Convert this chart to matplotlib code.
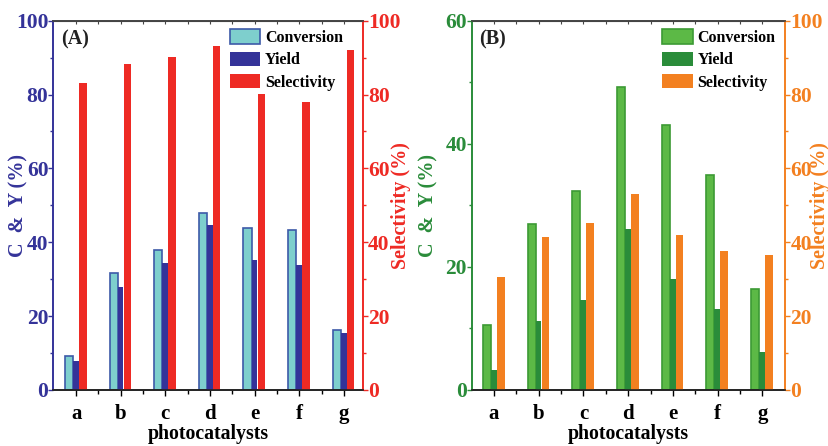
import matplotlib.pyplot as plt
from matplotlib.ticker import MultipleLocator
import numpy as np

plt.rcParams['font.family'] = ['Liberation Serif', 'DejaVu Serif']
plt.rcParams['font.weight'] = 'bold'

cats = ['a', 'b', 'c', 'd', 'e', 'f', 'g']

# panel A
conv_a = [9.3, 31.8, 38.0, 48.0, 43.9, 43.4, 16.3]
yield_a = [7.9, 27.9, 34.3, 44.7, 35.1, 33.9, 15.3]
sel_a = [83.0, 88.2, 90.1, 93.1, 80.1, 78.1, 92.1]

# panel B
conv_b = [10.6, 27.0, 32.3, 49.2, 43.0, 35.0, 16.4]
yield_b = [3.3, 11.2, 14.6, 26.1, 18.1, 13.2, 6.1]
sel_b = [30.7, 41.4, 45.2, 53.0, 42.0, 37.5, 36.6]


def panel(rect, conv, yld, sel, c_face, c_edge, y_col, s_col, l_col, r_col,
          lmax, label, xlim, lpos, rpos, leg_x):
    ax = fig.add_axes(rect)
    x = np.arange(len(cats))
    h1 = ax.bar(x - 0.16, conv, 0.18, color=c_face, edgecolor=c_edge, linewidth=1.2,
                label='Conversion', zorder=2)
    h2 = ax.bar(x - 0.005, yld, 0.13, color=y_col, label='Yield', zorder=3)
    ax2 = ax.twinx()
    h3 = ax2.bar(x + 0.15, sel, 0.17, color=s_col, label='Selectivity', zorder=2)

    ax.set_xlim(*xlim)
    ax.set_ylim(0, lmax)
    ax2.set_ylim(0, 100)
    ax.set_xticks(x)
    ax.set_xticklabels(cats, fontsize=15, fontweight='bold')
    ax.set_xticks(x[:-1] + 0.5, minor=True)
    ax.yaxis.set_major_locator(MultipleLocator(20))
    ax.yaxis.set_minor_locator(MultipleLocator(10))
    ax2.yaxis.set_major_locator(MultipleLocator(20))
    ax2.yaxis.set_minor_locator(MultipleLocator(10))

    ax.tick_params(axis='y', which='major', direction='out', length=3.5, width=1,
                   colors=l_col, labelsize=15.5, pad=0)
    ax.tick_params(axis='y', which='minor', direction='out', length=2.5, width=1,
                   colors=l_col)
    ax.tick_params(axis='x', which='major', direction='out', length=4, width=1,
                   labelsize=15, pad=6)
    ax.tick_params(axis='x', which='minor', direction='out', length=3, width=1)
    ax2.tick_params(axis='y', which='major', direction='out', length=3.5, width=1,
                    colors=r_col, labelsize=15.5, pad=0.5)
    ax2.tick_params(axis='y', which='minor', direction='out', length=2.5, width=1,
                    colors=r_col)
    # small inward ticks on the top spine
    secx = ax.secondary_xaxis('top')
    secx.set_xticks(x)
    secx.set_xticks(x[:-1] + 0.5, minor=True)
    secx.tick_params(which='both', direction='in', length=2.5, width=0.8,
                     labeltop=False, colors='#444444')
    secx.spines['top'].set_color('#444444')
    for lab in ax.get_yticklabels() + ax2.get_yticklabels():
        lab.set_fontweight('bold')

    for a in (ax, ax2):
        a.spines['left'].set_color(l_col)
        a.spines['right'].set_color(r_col)
        a.spines['top'].set_color('#444444')
        a.spines['bottom'].set_color('#222222')
        for s in a.spines.values():
            s.set_linewidth(1.2)

    ax.set_xlabel('photocatalysts', fontsize=14.3, fontweight='bold', labelpad=0)
    ax.set_ylabel('C  &  Y (%)', fontsize=14.5, fontweight='bold', color=l_col)
    ax.yaxis.set_label_coords(lpos, 0.5)
    ax2.set_ylabel('Selectivity (%)', fontsize=14.5, fontweight='bold', color=r_col)
    ax2.yaxis.set_label_coords(rpos, 0.5)
    ax.text(0.025, 0.975, label, transform=ax.transAxes, fontsize=14.5, fontweight='bold',
            va='top', ha='left', color='#222222')
    ax2.legend([h1, h2, h3], ['Conversion', 'Yield', 'Selectivity'],
               loc='upper right', bbox_to_anchor=(leg_x, 1.0), frameon=False,
               prop={'size': 11.5, 'weight': 'bold'}, handlelength=1.9,
               handleheight=1.0, handletextpad=0.3, labelspacing=0.35,
               borderaxespad=0.15)
    return ax, ax2


fig = plt.figure(figsize=(8.29, 4.46), dpi=100)

panel([0.0643, 0.1256, 0.3732, 0.828], conv_a, yield_a, sel_a,
      '#7ecfcd', '#3d5aa8', '#343399', '#ee2a24', '#343399', '#ee2a24',
      100, '(A)', (-0.51, 6.42), -0.08, 1.09, 0.965)

panel([0.569, 0.1256, 0.378, 0.828], conv_b, yield_b, sel_b,
      '#5cb946', '#3c9a34', '#2a8c3a', '#f38020', '#2a8c3a', '#f38020',
      60, '(B)', (-0.5, 6.51), -0.105, 1.08, 0.997)

fig.savefig('out.png', dpi=100)
